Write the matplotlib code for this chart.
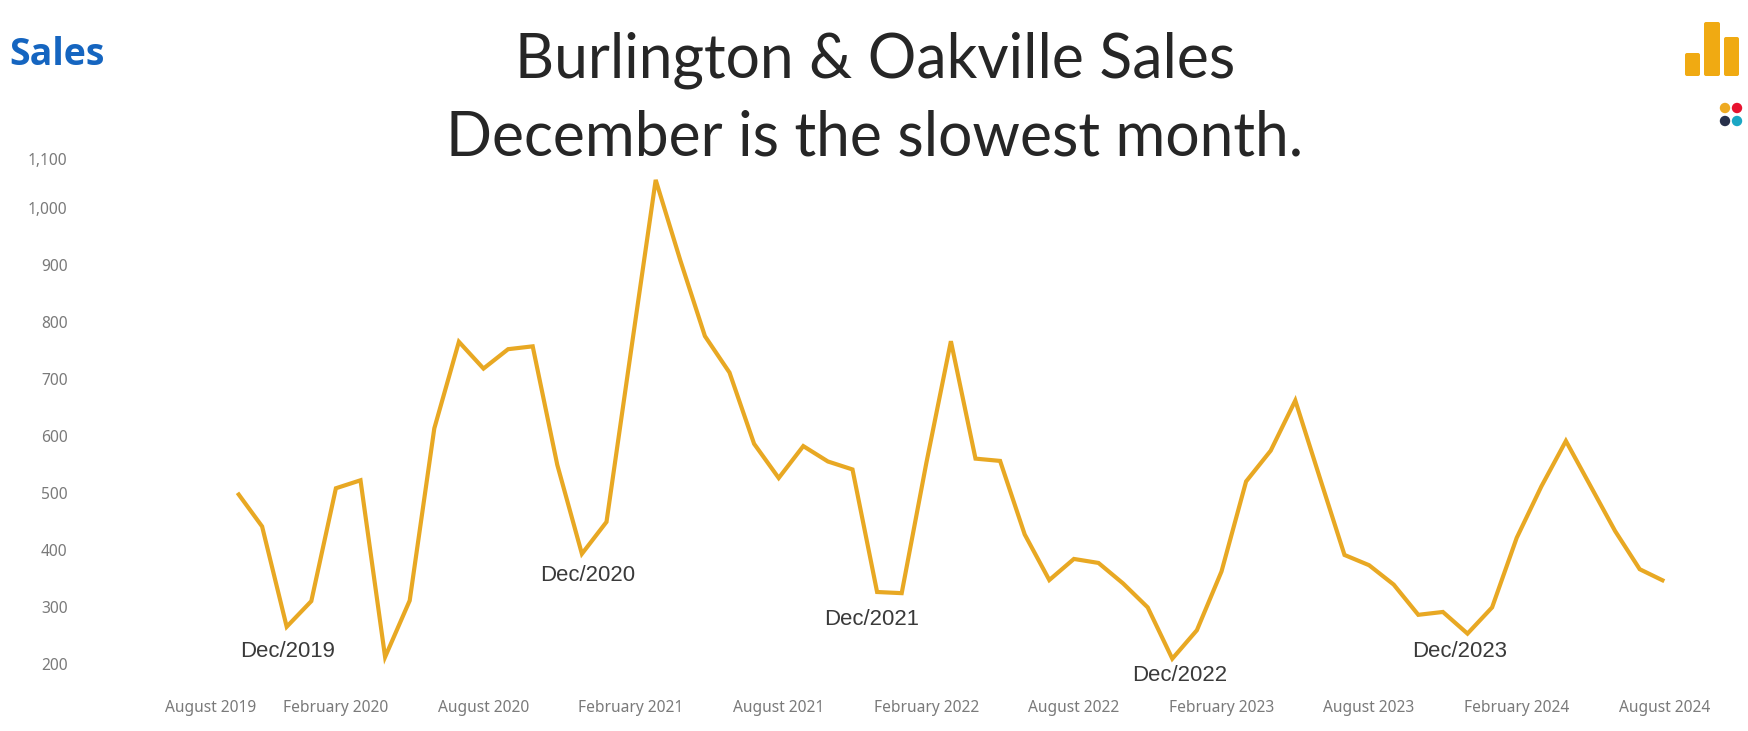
import numpy as np
import matplotlib
matplotlib.use("Agg")
import matplotlib.pyplot as plt
from matplotlib.patches import FancyBboxPatch, Circle
from matplotlib.transforms import ScaledTranslation

# monthly sales, October 2019 to August 2024
sales = [501, 442, 266, 311, 509, 523, 213, 312, 614, 766, 719, 753, 758, 550, 394,
         450, 751, 1050, 909, 776, 712, 587, 527, 583, 556, 542, 327,
         325, 553, 767, 561, 557, 428, 348, 385, 378, 342, 300, 210,
         260, 363, 521, 575, 663, 527, 392, 374, 340, 287, 292, 254,
         300, 422, 512, 592, 513, 434, 367, 346]

x_ticks = [-2, 4, 10, 16, 22, 28, 34, 40, 46, 52, 58]
x_labels = ['August 2019', 'February 2020', 'August 2020', 'February 2021',
            'August 2021', 'February 2022', 'August 2022', 'February 2023',
            'August 2023', 'February 2024', 'August 2024']
y_ticks = [200, 300, 400, 500, 600, 700, 800, 900, 1000, 1100]
y_labels = ['200', '300', '400', '500', '600', '700', '800', '900', '1,000', '1,100']

dec_idx = [2, 14, 26, 38, 50]
dec_labels = ['Dec/2019', 'Dec/2020', 'Dec/2021', 'Dec/2022', 'Dec/2023']
dec_offsets = [(1, -25), (6, -22), (-5, -27), (7, -17), (-8, -18)]

W, H = 1748, 731
fig = plt.figure(figsize=(W / 100, H / 100), dpi=100, facecolor='white')

# axes in pixels: x = 237.5 + 24.6 * month, y = 664.4 - 0.57 * (value - 200)
left, right, top, bottom = 130, 1740, 150, 690
ax = fig.add_axes([left / W, 1 - bottom / H, (right - left) / W, (bottom - top) / H])
ax.set_xlim((left - 237.5) / 24.6, (right - 237.5) / 24.6)
ax.set_ylim(200 + (664.4 - bottom) / 0.57, 200 + (664.4 - top) / 0.57)

ax.plot(np.arange(len(sales)), sales, color='#e8a823', linewidth=3.0,
        solid_joinstyle='miter', solid_capstyle='butt')

for spine in ax.spines.values():
    spine.set_visible(False)
ax.tick_params(length=0)
ax.patch.set_alpha(0)

ax.set_xticks(x_ticks)
ax.set_xticklabels(x_labels, family='Noto Sans', fontsize=11.2, color='#7a7a7a')
ax.set_yticks(y_ticks)
ax.set_yticklabels(y_labels, family='Noto Sans', fontsize=11.2, color='#7a7a7a')
ax.tick_params(axis='x', pad=7)
ax.yaxis.set_tick_params(pad=45)

# first x label and top y label sit off their ticks in the original
lab = ax.get_xticklabels()[0]
lab.set_transform(lab.get_transform() + ScaledTranslation(22 / 100, 0, fig.dpi_scale_trans))
lab = ax.get_yticklabels()[-1]
lab.set_transform(lab.get_transform() + ScaledTranslation(0, -8 / 100, fig.dpi_scale_trans))

for idx, text, off in zip(dec_idx, dec_labels, dec_offsets):
    ax.annotate(text, xy=(idx, sales[idx]), xytext=off, textcoords='offset pixels',
                ha='center', va='center', family='Liberation Sans', fontsize=15.9,
                color='#3a3a3a')

fig.text(875 / W, 1 - 60.5 / H, 'Burlington & Oakville Sales', ha='center', va='center',
         family='Lato', fontsize=43.7, color='#262626')
fig.text(875 / W, 1 - 138 / H, 'December is the slowest month.', ha='center', va='center',
         family='Lato', fontsize=43.7, color='#262626')
fig.text(9 / W, 1 - 55 / H, 'Sales', ha='left', va='center', family='Open Sans',
         fontweight='bold', fontsize=27, color='#1565c0')

# logo, pixel coordinates
logo = fig.add_axes([0, 0, 1, 1])
logo.set_xlim(0, W)
logo.set_ylim(H, 0)
logo.axis('off')
for x0, x1, y0 in [(1685, 1700, 53), (1704, 1720, 22), (1724, 1739, 37)]:
    logo.add_patch(FancyBboxPatch((x0 + 2, y0 + 2), x1 - x0 - 4, 76 - y0 - 4,
                                  boxstyle='round,pad=2', fc='#f0aa12', ec='none'))
for cx, cy, col in [(1725, 108, '#eeaa22'), (1737, 108, '#e8132f'),
                    (1725, 121, '#27304a'), (1737, 121, '#1ba7c4')]:
    logo.add_patch(Circle((cx, cy), 5.2, fc=col, ec='none'))

fig.savefig('out.png', dpi=100)
